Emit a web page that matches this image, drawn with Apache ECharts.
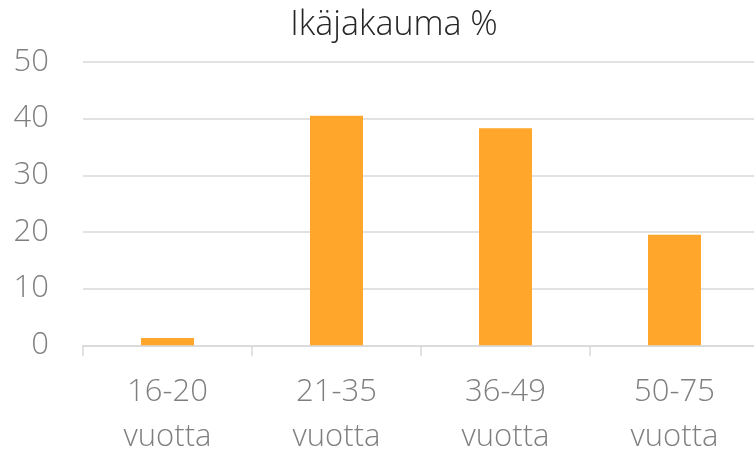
<!DOCTYPE html>
<html>
<head>
<meta charset="utf-8">
<script src="https://cdn.jsdelivr.net/npm/echarts@6/dist/echarts.min.js"></script>
<style>
html,body{margin:0;padding:0;background:#fff;}
#c{width:754px;height:451px;}
</style>
</head>
<body>
<div id="c"></div>
<script>
const title = 'Ikäjakauma %';
const categories = ['16-20\nvuotta', '21-35\nvuotta', '36-49\nvuotta', '50-75\nvuotta'];
const values = [1.3, 40.5, 38.3, 19.5];
const yTicks = [0, 10, 20, 30, 40, 50];

const chart = echarts.init(document.getElementById('c'), null, {renderer: 'canvas'});
const font = '"Open Sans", "Segoe UI", sans-serif';
chart.setOption({
  animation: false,
  backgroundColor: '#fff',
  title: {
    text: title,
    left: 389, top: 3, textAlign: 'center',
    textStyle: {fontFamily: font, fontWeight: 300, fontSize: 34, color: '#262626'}
  },
  grid: {left: 83, top: 62, width: 676, height: 283.3, containLabel: false, outerBoundsMode: 'none'},
  xAxis: {
    type: 'category',
    data: categories,
    axisLine: {show: true, lineStyle: {color: '#d9d9d9', width: 1.5}},
    axisTick: {show: true, length: 11, alignWithLabel: false, lineStyle: {color: '#d9d9d9', width: 1.5}},
    axisLabel: {fontFamily: font, fontWeight: 300, fontSize: 31, color: '#7f7f7f', lineHeight: 45, margin: 24, interval: 0}
  },
  yAxis: {
    type: 'value',
    min: yTicks[0], max: yTicks[yTicks.length - 1], interval: 10,
    axisLine: {show: false},
    axisTick: {show: false},
    splitLine: {lineStyle: {color: '#d9d9d9', width: 1.5}},
    axisLabel: {fontFamily: font, fontWeight: 300, fontSize: 31, color: '#7f7f7f', margin: 34}
  },
  series: [{
    type: 'bar',
    data: values,
    barWidth: 53,
    itemStyle: {color: '#FFA62B'}
  }]
});
</script>
</body>
</html>
